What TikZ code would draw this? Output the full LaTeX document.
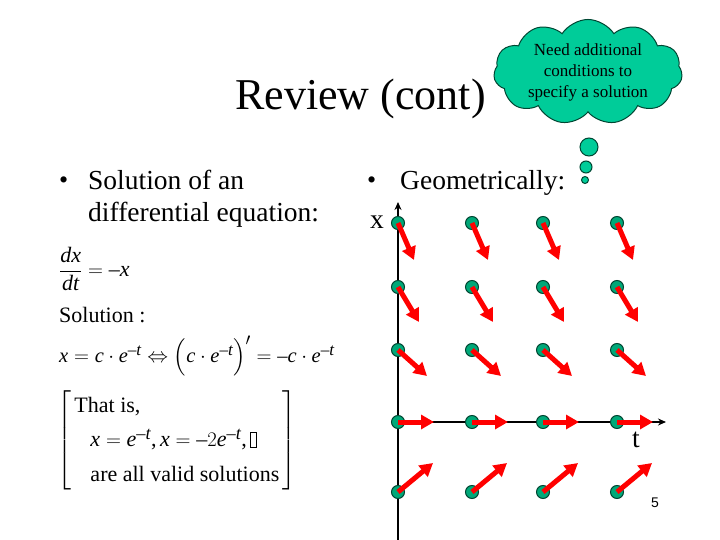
\documentclass[tikz,border=0pt]{standalone}
\usepackage{amsmath}
\usepackage{fontspec}
\setmainfont{Liberation Serif}
\newfontfamily\pagefont{Liberation Sans}
\usepackage[italic]{mathastext}
\usetikzlibrary{arrows.meta,shapes.symbols}
\definecolor{bubblegreen}{RGB}{0,204,153}
\definecolor{dotgreen}{RGB}{0,168,120}
\definecolor{dotrim}{RGB}{0,70,50}
\tikzset{
  slide title/.style={anchor=base west, inner sep=0pt,
    font=\fontsize{44}{50}\selectfont},
  bullet text/.style={anchor=base west, inner sep=0pt,
    font=\fontsize{27.5}{32}\selectfont},
  eq text/.style={anchor=west, inner sep=0pt,
    font=\fontsize{22}{26}\selectfont},
  axis line/.style={line width=1.8pt, -{Stealth[length=8pt,width=7pt]}},
  field dot/.style={circle, draw=dotrim, line width=1pt, fill=dotgreen,
    minimum size=13pt, inner sep=0pt},
  slope arrow/.style={red, line width=5pt,
    -{Triangle[length=13pt,width=14pt]}},
  thought puff/.style={circle, draw=dotrim, line width=1pt,
    fill=bubblegreen, inner sep=0pt}
}
\newcommand{\missingGlyph}{%
  {\setlength{\fboxsep}{0pt}\setlength{\fboxrule}{0.6pt}%
   \fbox{\rule{0pt}{14pt}\hspace{5pt}}}}

\begin{document}
\begin{tikzpicture}[x=1pt,y=-1pt]
  \useasboundingbox (0,0) rectangle (720,540);

  % title and bullets
  \node[slide title] (title) at (235,110) {Review (cont)};
  \node[bullet text,font=\fontsize{26}{30}\selectfont] (bulletLeft) at (59,189) {\textbullet};
  \node[bullet text] (solnLineA) at (88,190) {Solution of an};
  \node[bullet text] (solnLineB) at (88,222) {differential equation:};
  \node[bullet text,font=\fontsize{26}{30}\selectfont] (bulletRight) at (367,189) {\textbullet};
  \node[bullet text] (geomText) at (400,190) {Geometrically:};

  % equations
  \node[eq text] (odeEq) at (59,269) {$\dfrac{dx}{dt}=-x$};
  \node[eq text,anchor=base west] (solnWord) at (59,322) {Solution :};
  \node[eq text,font=\fontsize{20.5}{24}\selectfont] (solnEq) at (59,356)
    {$x=c\cdot e^{-t}\Leftrightarrow\Bigl(c\cdot e^{-t}\Bigr)'=-c\cdot e^{-t}$};
  \renewcommand{\arraystretch}{1.32}
  \node[eq text] (validBox) at (57,440)
    {$\left[\begin{array}{@{\,}l@{\,}}
      \text{That is,}\\
      \hspace{16pt}x=e^{-t},x=-2e^{-t},\text{\missingGlyph}\\
      \hspace{16pt}\text{are all valid solutions}
    \end{array}\right]$};

  % axes
  \coordinate (xBottom) at (398,540);
  \coordinate (xTop) at (398,202);
  \coordinate (origin) at (398,422);
  \coordinate (tEnd) at (666,422);
  \draw[axis line] (xBottom) -- (xTop);
  \draw[axis line] (origin) -- (tEnd);
  \node[bullet text,anchor=center] (xLabel) at (377,222) {x};
  \node[bullet text,anchor=center] (tLabel) at (636,440) {t};

  % slope field
  \foreach \row/\ex/\ey in {223/16/37, 287/21/35, 350/29/26,
                            422/36/0, 492/35/-29} {
    \foreach \col in {398,472,543,617} {
      \node[field dot] (dot-\col-\row) at (\col,\row) {};
      \path (dot-\col-\row.center) ++(\ex,\ey) coordinate (tip-\col-\row);
      \draw[slope arrow] (dot-\col-\row.center) -- (tip-\col-\row);
    }
  }

  % thought cloud
  \node[cloud, cloud puffs=11, cloud puff arc=115, aspect=2.3,
    draw=dotrim, line width=1pt, fill=bubblegreen,
    inner xsep=5pt, inner ysep=-13pt, align=center,
    font=\fontsize{17}{21}\selectfont] (needCloud) at (588,72)
    {Need additional\\conditions to\\specify a solution};
  \node[thought puff, minimum size=18pt] (puffBig) at (589,147) {};
  \node[thought puff, minimum size=12pt] (puffMid) at (586,167) {};
  \node[thought puff, minimum size=7pt] (puffSmall) at (585,180) {};

  \node[font=\pagefont\fontsize{14}{16}\selectfont] (pageNo) at (655,503) {5};
\end{tikzpicture}
\end{document}
